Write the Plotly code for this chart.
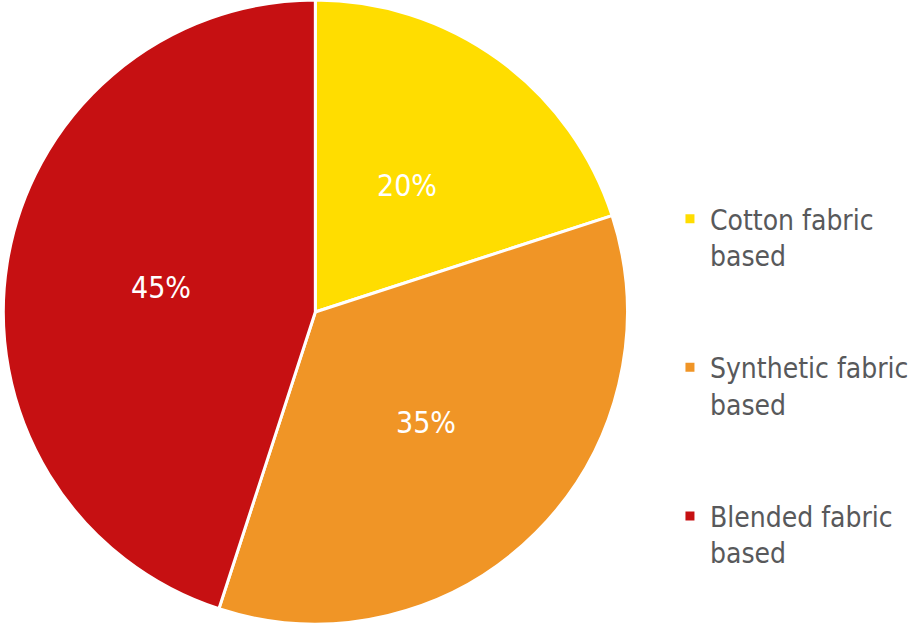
import math
import plotly.graph_objects as go

labels = ["Cotton fabric<br>based<br> <br> ", "Synthetic fabric<br>based<br> <br> ", "Blended fabric<br>based"]
values = [20, 35, 45]
colors = ["#FFDD00", "#F09526", "#C61012"]

W, H = 914, 624
dom_x = [0, 0.69]

fig = go.Figure(go.Pie(
    labels=labels,
    values=values,
    sort=False,
    direction="clockwise",
    rotation=0,
    marker=dict(colors=colors, line=dict(color="white", width=3)),
    textinfo="none",
    domain=dict(x=dom_x, y=[0, 1]),
    hoverinfo="label+percent",
))

# percentage labels placed at half radius along each slice's mid-angle
total = sum(values)
cx = (dom_x[0] + dom_x[1]) / 2 * W
cy = H / 2
R = min((dom_x[1] - dom_x[0]) * W, H) / 2
cum = 0
for v in values:
    mid = (cum + v / 2) / total * 2 * math.pi
    cum += v
    px = cx + 0.5 * R * math.sin(mid)
    py = cy - 0.5 * R * math.cos(mid)
    fig.add_annotation(
        x=px / W, y=1 - py / H, xref="paper", yref="paper",
        xanchor="center", yanchor="middle",
        text=f"{round(v / total * 100)}%", showarrow=False,
        font=dict(color="white", size=30, family="DejaVu Sans Condensed"),
    )

fig.update_layout(
    width=W, height=H,
    margin=dict(l=0, r=0, t=0, b=0),
    paper_bgcolor="white",
    plot_bgcolor="white",
    showlegend=True,
    legend=dict(
        x=0.733, y=0.689, xanchor="left", yanchor="top",
        font=dict(size=28, color="#58595B", family="DejaVu Sans Condensed"),
        valign="top",
        itemwidth=30,
    ),
)

fig.write_html("out.html")
